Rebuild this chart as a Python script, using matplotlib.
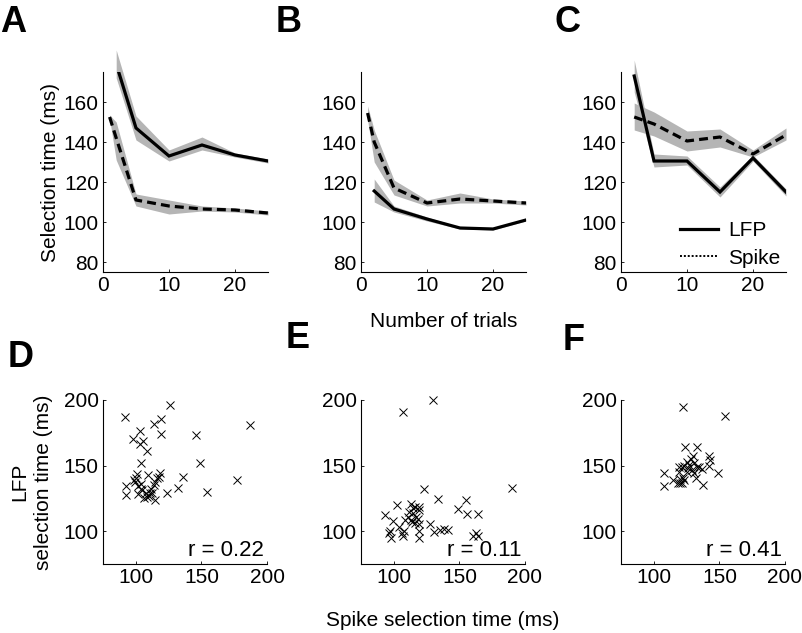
import numpy as np
import matplotlib
matplotlib.use('Agg')
import matplotlib.pyplot as plt
from matplotlib.lines import Line2D

plt.rcParams['font.family'] = ['Liberation Sans', 'DejaVu Sans']
plt.rcParams['font.size'] = 15

# ---- panel A-C: selection time vs number of trials ----
# A
a_lfp_x = [2, 5, 10, 15, 20, 25]
a_lfp_y = [179, 147, 133, 138.5, 133.5, 130.5]
a_lfp_lo = [172, 141, 130.5, 136, 132.5, 129.5]
a_lfp_hi = [186, 153, 136, 142.5, 134.5, 131.5]
a_spk_x = [1, 2, 5, 10, 15, 20, 25]
a_spk_y = [152.5, 142, 111, 108, 106.5, 106, 104.5]
a_spk_lo = [151.5, 131, 108, 104, 105.5, 105, 103.5]
a_spk_hi = [153.5, 150, 114, 111, 108, 107, 105.5]

# B
b_lfp_x = [2, 5, 10, 15, 20, 25]
b_lfp_y = [115.5, 106.5, 101.5, 97, 96.5, 101]
b_lfp_lo = [110, 105, 100.5, 96.5, 96, 100.5]
b_lfp_hi = [121.5, 108, 102.5, 97.5, 97, 101.5]
b_spk_x = [1, 2, 5, 10, 15, 20, 25]
b_spk_y = [154.5, 140, 117, 109.5, 111.5, 110.5, 109.5]
b_spk_lo = [151, 130, 113.5, 108, 109.5, 109.5, 108.5]
b_spk_hi = [158, 146, 121, 111, 114.5, 111.5, 110.5]

# C
c_lfp_x = [2, 5, 10, 15, 20, 25]
c_lfp_y = [173, 130.5, 130.5, 115, 132, 115]
c_lfp_lo = [165, 127.5, 128.5, 112.5, 130.5, 113]
c_lfp_hi = [181, 134, 133, 117.5, 133.5, 116.5]
c_spk_x = [2, 5, 10, 15, 20, 25]
c_spk_y = [152.5, 149, 140.5, 142.5, 134, 143.5]
c_spk_lo = [146, 143, 135.5, 137.5, 132.5, 141]
c_spk_hi = [159.5, 155, 145.5, 146.5, 136, 147]

# ---- panel D-F: LFP vs spike selection time ----
d_spk = [92, 126.3, 187.3, 113.9, 119.2, 119.2, 103, 97.9, 105.5, 103.5, 108.8,
         146.1, 149.2, 103.7, 177.1, 136, 131.9, 154.3, 123.8, 92.8, 92.8, 98.4,
         100.4, 100.9, 99.1, 101.7, 104.2, 101.4, 105, 108, 110.1, 108.5, 112.3,
         113.6, 114.9, 111.8, 109.3, 117.4, 118.2, 116.2, 114.9, 106.5, 103.7, 110.6]
d_lfp = [187, 196, 181.2, 182, 185.3, 174.1, 176.4, 170, 169, 166.5, 161.2,
         173.1, 152, 152, 139.1, 141.1, 133, 130, 129, 134.8, 127.9, 139.1,
         140.9, 143.4, 137.6, 134.5, 135.8, 128.4, 131.5, 129.4, 126.9, 126.4, 129.4,
         135.3, 137.8, 132, 143.1, 141.6, 144.2, 140.8, 123.8, 125.1, 132, 128.9]

e_spk = [129.5, 106.7, 190.1, 122.7, 133.8, 154.9, 149, 156.1, 163.9, 102.4, 93.5,
         99.6, 97.1, 96.6, 98, 104.2, 106.2, 106.7, 107.7, 108.7, 110.7, 111.8, 113,
         114.3, 113, 113.8, 115.8, 116.8, 116, 118.9, 119.4, 118.1, 118.9, 119.4,
         119.4, 127.7, 130.8, 135.3, 138.6, 141.4, 160.4, 162.5, 163.9, 115]
e_lfp = [200, 191.1, 132.7, 132, 124.9, 123.9, 117, 113.2, 113.2, 120, 112.2,
         108.1, 100.5, 98.5, 94.7, 103, 98.5, 96, 100.5, 108.6, 111.2, 115, 120.6,
         117.5, 108.6, 106.9, 106.1, 111.2, 118.8, 116.2, 118.3, 109.1, 105.6, 100.3,
         94.7, 105.6, 99.2, 101, 102, 101, 96.4, 99, 96.4, 113.7]

f_spk = [121.9, 153.9, 123.4, 132.8, 108, 108, 114.6, 118.9, 120.2, 121.4, 123.2,
         122.2, 123.2, 121.4, 125.2, 127.2, 128.2, 129.5, 130.3, 129, 130.8, 132,
         133.3, 134.8, 136.6, 137.4, 142.4, 142.9, 141.7, 148.8, 119.4, 125.2,
         120.2, 118.1, 126]
f_lfp = [194.9, 188.1, 164, 164, 144.2, 134.8, 139.1, 145.4, 136.5, 149.2, 150,
         140.4, 139.1, 136.5, 153, 150.3, 154.8, 157.4, 151.8, 146.7, 144.2, 140.4,
         148.7, 148.7, 147.5, 135.3, 157.4, 154.3, 150, 144.2, 148.7, 145.4,
         139.6, 137, 148]

r_values = ['r = 0.22', 'r = 0.11', 'r = 0.41']

W, H = 802, 633
fig = plt.figure(figsize=(W / 100, H / 100), dpi=100)


def px_axes(left, top, width, height):
    return fig.add_axes([left / W, 1 - (top + height) / H, width / W, height / H])


def style(ax):
    ax.spines['top'].set_visible(False)
    ax.spines['right'].set_visible(False)
    for s in ['left', 'bottom']:
        ax.spines[s].set_linewidth(0.8)
    ax.tick_params(direction='in', length=2.5, width=0.6, labelsize=15, pad=3)


shade = '#b5b5b5'
lefts = [103, 361, 621]
top_panels = [
    (a_lfp_x, a_lfp_y, a_lfp_lo, a_lfp_hi, a_spk_x, a_spk_y, a_spk_lo, a_spk_hi),
    (b_lfp_x, b_lfp_y, b_lfp_lo, b_lfp_hi, b_spk_x, b_spk_y, b_spk_lo, b_spk_hi),
    (c_lfp_x, c_lfp_y, c_lfp_lo, c_lfp_hi, c_spk_x, c_spk_y, c_spk_lo, c_spk_hi),
]

top_axes = []
for left, (lx, ly, llo, lhi, sx, sy, slo, shi) in zip(lefts, top_panels):
    ax = px_axes(left, 72, 165, 200)
    ax.fill_between(sx, slo, shi, color=shade, lw=0, clip_on=False)
    ax.fill_between(lx, llo, lhi, color=shade, lw=0, clip_on=False)
    ax.plot(sx, sy, color='black', lw=2.3, dashes=(2.8, 1.6))
    ax.plot(lx, ly, color='black', lw=2.3, solid_joinstyle='miter')
    ax.set_xlim(0, 25)
    ax.set_ylim(75, 175)
    ax.set_xticks([0, 10, 20])
    ax.set_yticks([80, 100, 120, 140, 160])
    style(ax)
    top_axes.append(ax)

top_axes[0].set_ylabel('Selection time (ms)', fontsize=15, labelpad=3)
top_axes[1].set_xlabel('Number of trials', fontsize=15, labelpad=12)

handles = [Line2D([], [], color='black', lw=2.3),
           Line2D([], [], color='black', lw=1.4, ls=(0, (1, 1)))]
top_axes[2].legend(handles, ['LFP', 'Spike'], loc='lower right', frameon=False,
                   fontsize=15, handlelength=1.8, handletextpad=0.5,
                   labelspacing=0.4, borderaxespad=0.1,
                   bbox_to_anchor=(1.03, -0.03))

bottom_panels = [(d_spk, d_lfp), (e_spk, e_lfp), (f_spk, f_lfp)]
bottom_axes = []
for left, (xs, ys), rtxt in zip(lefts, bottom_panels, r_values):
    ax = px_axes(left, 400, 164, 164)
    ax.plot(xs, ys, ls='none', marker='x', color='black', ms=5.5, mew=0.7,
            clip_on=False)
    ax.set_xlim(75, 200)
    ax.set_ylim(75, 200)
    ax.set_xticks([100, 150, 200])
    ax.set_yticks([100, 150, 200])
    style(ax)
    ax.text(0.98, 0.02, rtxt, transform=ax.transAxes, ha='right', va='bottom',
            fontsize=16)
    bottom_axes.append(ax)

bottom_axes[0].set_ylabel('LFP\nselection time (ms)', fontsize=15, labelpad=8,
                          linespacing=1.3)
bottom_axes[1].set_xlabel('Spike selection time (ms)', fontsize=15, labelpad=17)

# panel letters
letters = [('A', 0, 22), ('B', 276, 22), ('C', 554, 22),
           ('D', 8, 357), ('E', 286, 338), ('F', 563, 341)]
for txt, x, y in letters:
    fig.text(x / W, 1 - y / H, txt, fontsize=26, fontweight='bold',
             ha='left', va='center')

fig.savefig('out.png', dpi=100)
